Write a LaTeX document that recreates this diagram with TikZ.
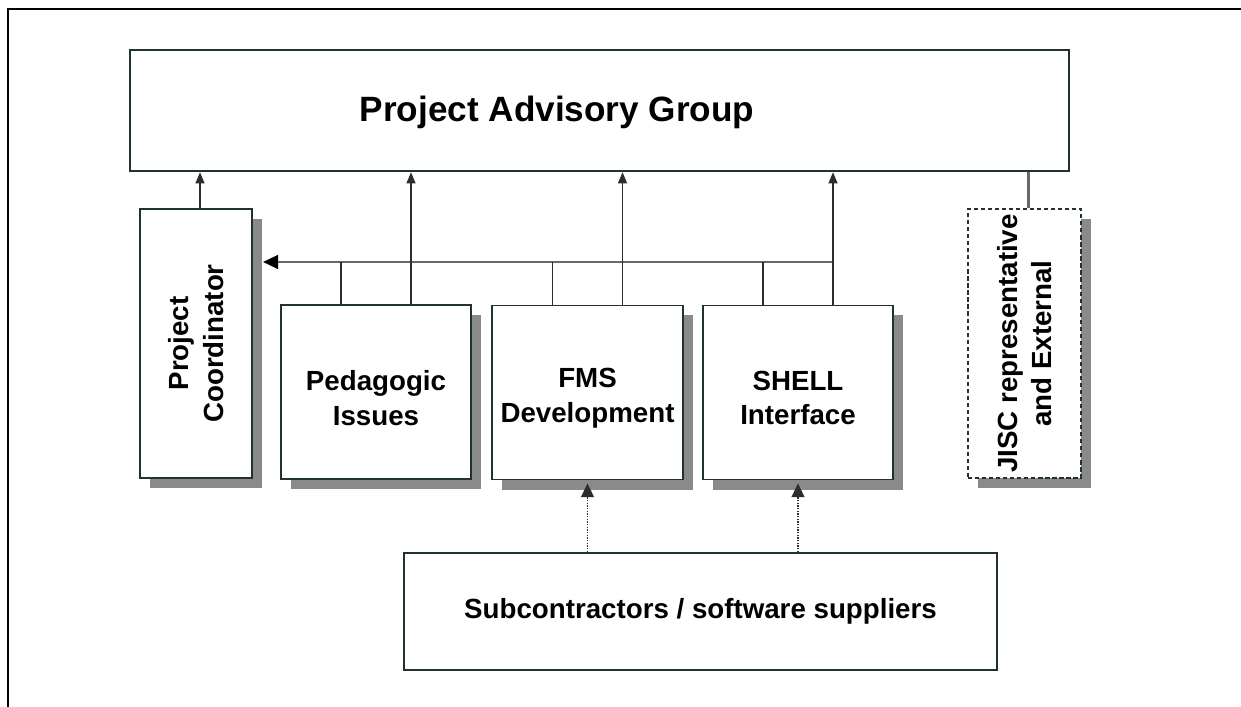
\documentclass[tikz,border=0pt]{standalone}
\usepackage{fontspec}
\setmainfont{Liberation Sans}
\usetikzlibrary{arrows.meta,shadows}

\definecolor{boxline}{RGB}{34,50,44}
\definecolor{shadowgray}{RGB}{138,138,138}
\definecolor{wire}{RGB}{45,45,45}
\definecolor{busgray}{RGB}{105,105,105}

\tikzset{
  frame/.style={line width=1.8pt, black},
  box/.style={draw=boxline, line width=1.3pt, fill=white, inner sep=0pt},
  shadowbox/.style={box, drop shadow={shadow xshift=.25cm, shadow yshift=-.25cm, fill=shadowgray, opacity=1}},
  boxtext/.style={font=\bfseries\fontsize{19.7}{24.5}\selectfont, align=center, inner sep=0pt},
  grouptitle/.style={font=\bfseries\fontsize{25}{29}\selectfont, inner sep=0pt},
  uparrow/.style={draw=wire, line width=1.2pt, -{Triangle[length=.28cm, width=.22cm]}},
  tick/.style={draw=wire, line width=1.2pt},
  bus/.style={draw=busgray, line width=2pt, -{Triangle[length=.38cm, width=.34cm, black]}},
  supply/.style={draw=wire, line width=.9pt, densely dotted, -{Triangle[length=.34cm, width=.32cm]}},
  link/.style={draw=busgray, line width=2.4pt}
}

\begin{document}
\begin{tikzpicture}[x=0.025cm, y=-0.025cm]
\useasboundingbox (0,0) rectangle (1241,707);
% page frame
\draw[frame] (8,707) -- (8,9) -- (1241,9);

% advisory group
\node[box, line width=1.6pt, minimum width=23.475cm, minimum height=3.025cm] (pag) at (599.5,110.5) {};
\node[grouptitle] (pagtitle) at (557,112) {Project Advisory Group};

% side boxes
\node[shadowbox, minimum width=2.8cm, minimum height=6.725cm,
      label={[boxtext, rotate=90]center:Project\\Coordinator}] (coord) at (196,343.5) {};
\node[shadowbox, dash pattern=on 3pt off 2pt, minimum width=2.825cm, minimum height=6.725cm,
      label={[boxtext, rotate=90]center:JISC representative\\and External}] (jisc) at (1024.5,343.5) {};

% work packages
\node[shadowbox, minimum width=4.75cm, minimum height=4.35cm] (ped) at (376,392) {};
\node[boxtext] (pedtext) at (376,398) {Pedagogic\\Issues};
\node[shadowbox, minimum width=4.775cm, minimum height=4.35cm] (fms) at (587.5,392.5) {};
\node[boxtext] (fmstext) at (587.5,398) {FMS\\Development};
\node[shadowbox, minimum width=4.75cm, minimum height=4.35cm] (shell) at (798,392.5) {};
\node[boxtext] (shelltext) at (798,398) {SHELL\\Interface};

% suppliers
\node[box, minimum width=14.825cm, minimum height=2.925cm, boxtext] (sub) at (700.5,611.5) {Subcontractors / software suppliers};

% reporting lines
\coordinate (busy) at (0,262);
\coordinate (ce) at ([xshift=.25cm]coord.east);
\coordinate (coord-up) at ([xshift=.1cm]coord.north);
\coordinate (jisc-up) at ([xshift=.1cm]jisc.north);
\foreach \n in {ped,fms,shell}{
  \coordinate (\n-tick) at ([xshift=-.875cm]\n.north);
  \coordinate (\n-up) at ([xshift=.875cm]\n.north);
}
\draw[bus] (shell-up |- busy) -- (ce |- busy);
\foreach \n in {ped,fms,shell}{
  \draw[tick] (\n-tick) -- (\n-tick |- busy);
  \draw[uparrow] (\n-up) -- (\n-up |- pag.south);
}
\draw[uparrow] (coord-up) -- (coord-up |- pag.south);
\draw[link] (jisc-up) -- (jisc-up |- pag.south);

% supplier links
\foreach \n in {fms,shell}
  \draw[supply] (\n.south |- sub.north) -- ([yshift=-.075cm]\n.south);
\end{tikzpicture}
\end{document}
